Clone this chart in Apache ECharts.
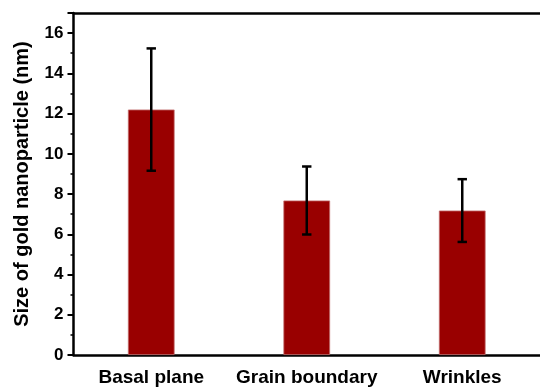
<!DOCTYPE html>
<html>
<head>
<meta charset="utf-8">
<script src="https://cdn.jsdelivr.net/npm/echarts@6/dist/echarts.min.js"></script>
<style>html,body{margin:0;padding:0;background:#fff;}#c{width:540px;height:387px;}</style>
</head>
<body>
<div id="c"></div>
<script>
const categories = ['Basal plane', 'Grain boundary', 'Wrinkles'];
const means = [12.2, 7.68, 7.18];
const errors = [3.04, 1.69, 1.56];
const yTicks = [0, 2, 4, 6, 8, 10, 12, 14, 16];

const chart = echarts.init(document.getElementById('c'));
const errData = means.map((m, i) => [i, m - errors[i], m + errors[i]]);
const font = 'Liberation Sans, Arial, sans-serif';
chart.setOption({
  animation: false,
  grid: { left: 73.5, top: 13, right: -1, bottom: 30.5, show: false },
  xAxis: [{
    type: 'category',
    data: categories,
    axisLine: { lineStyle: { color: '#000', width: 2.5 } },
    axisTick: { alignWithLabel: true, length: 6, lineStyle: { color: '#000', width: 2 } },
    axisLabel: { interval: 0, color: '#000', fontWeight: 'bold', fontSize: 19, fontFamily: font, margin: 13 },
    splitLine: { show: false }
  }, {
    type: 'category',
    position: 'top',
    data: categories,
    axisLine: { show: true, lineStyle: { color: '#000', width: 2.5 } },
    axisTick: { show: false },
    axisLabel: { show: false },
    splitLine: { show: false }
  }],
  yAxis: {
    type: 'value',
    min: 0, max: 17, interval: 2,
    name: 'Size of gold nanoparticle (nm)',
    nameLocation: 'middle',
    nameGap: 41,
    nameTextStyle: { color: '#000', fontWeight: 'bold', fontSize: 20, fontFamily: font },
    axisLine: { show: true, lineStyle: { color: '#000', width: 2.5 } },
    axisTick: { show: true, length: 6, lineStyle: { color: '#000', width: 2 } },
    minorTick: { show: true, splitNumber: 2, length: 3, lineStyle: { color: '#000', width: 1.5 } },
    axisLabel: { color: '#000', fontWeight: 'bold', fontSize: 17, fontFamily: font, margin: 10, showMaxLabel: false,
      formatter: v => yTicks.includes(v) ? String(v) : '' },
    splitLine: { show: false }
  },
  series: [
    {
      type: 'bar',
      data: means,
      barWidth: '30%',
      itemStyle: { color: '#990000', borderColor: '#c06a6a', borderWidth: 0.8 }
    },
    {
      type: 'custom',
      data: errData,
      z: 10,
      renderItem: function (params, api) {
        const x = api.value(0);
        const lo = api.coord([x, api.value(1)]);
        const hi = api.coord([x, api.value(2)]);
        const hw = 4.7;
        const style = { stroke: '#000', lineWidth: 2.5 };
        return {
          type: 'group',
          children: [
            { type: 'line', shape: { x1: lo[0], y1: lo[1], x2: hi[0], y2: hi[1] }, style: style },
            { type: 'line', shape: { x1: lo[0] - hw, y1: lo[1], x2: lo[0] + hw, y2: lo[1] }, style: style },
            { type: 'line', shape: { x1: hi[0] - hw, y1: hi[1], x2: hi[0] + hw, y2: hi[1] }, style: style }
          ]
        };
      }
    }
  ]
});
</script>
</body>
</html>
